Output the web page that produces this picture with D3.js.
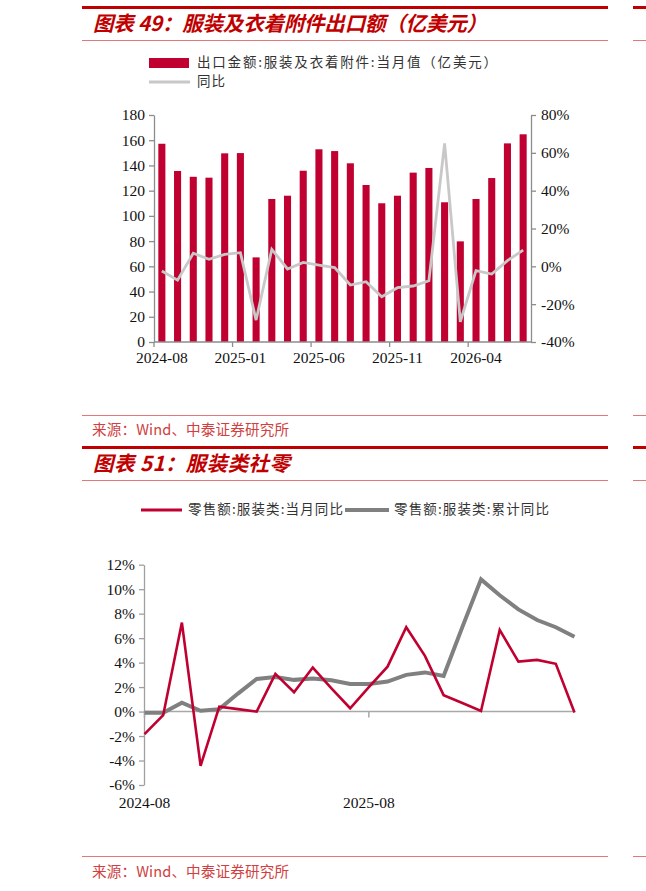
<!DOCTYPE html>
<html><head><meta charset="utf-8">
<script src="https://cdn.jsdelivr.net/npm/d3@7/dist/d3.min.js"></script>
<style>
html,body{margin:0;padding:0;background:#fff;}
svg{display:block;}
</style></head>
<body>
<script>
// ---------- data ----------
const months1 = ["2024-08","2024-09","2024-10","2024-11","2024-12","2025-01","2025-02","2025-03","2025-04","2025-05","2025-06","2025-07","2025-08","2025-09","2025-10","2025-11","2025-12","2026-01","2026-02","2026-03","2026-04","2026-05","2026-06","2026-07"];
const exportValues = [157.2,135.6,131,130.3,149.6,149.8,67.1,113.4,116,135.8,152.8,151.4,141.7,124.5,110,116,134.3,138,110.8,79.8,113.4,130,157.5,164.7];
const exportYoY = [-2.5,-7.3,6.9,3.7,6.3,7.2,-28.4,9.0,-1.4,2.1,0.7,-0.7,-9.9,-8.1,-16.1,-11.3,-10.4,-7.6,65,-29.3,-2.3,-4.1,3.0,8.6];
const xTicks1 = ["2024-08","2025-01","2025-06","2025-11","2026-04"];
const leftTicks1 = [0,20,40,60,80,100,120,140,160,180];
const rightTicks1 = [-40,-20,0,20,40,60,80];

const months2 = months1.slice();
const retailMonthly = [-1.85,-0.3,7.27,-4.43,0.4,0.2,0.0,3.08,1.58,3.6,1.9,0.27,2.0,3.67,6.89,4.55,1.34,0.7,0.05,6.67,4.08,4.22,3.9,-0.08];
const retailCumulative = [-0.1,-0.1,0.73,0.06,0.2,1.47,2.67,2.83,2.59,2.7,2.56,2.26,2.26,2.45,3.0,3.2,2.9,6.9,10.8,9.5,8.35,7.48,6.89,6.12];
const xTicks2 = ["2024-08","2025-08"];
const yTicks2 = [-6,-4,-2,0,2,4,6,8,10,12];

const title1 = "图表 49：服装及衣着附件出口额（亿美元）";
const title2 = "图表 51：服装类社零";
const legend1 = ["出口金额:服装及衣着附件:当月值（亿美元）","同比"];
const legend2 = ["零售额:服装类:当月同比","零售额:服装类:累计同比"];
const sourceText = "来源：Wind、中泰证券研究所";

// ---------- styles ----------
const RED = "#c00030";
const TITLE_RED = "#c00000";
const THIN = "#e07a7a";
const AXIS = "#8c8c8c";
const SERIF = "'Liberation Serif','Times New Roman',serif";
const CJK = "'Noto Sans CJK SC','Noto Sans',sans-serif";

const svg = d3.select("body").append("svg").attr("width",646).attr("height",891);

function hline(y, x1, x2, color, w){
  svg.append("line").attr("x1",x1).attr("x2",x2).attr("y1",y).attr("y2",y)
    .attr("stroke",color).attr("stroke-width",w);
}
[[7.5,3],[447.5,3]].forEach(([y,w])=>{ hline(y,82,608,TITLE_RED,w); hline(y,633,646,TITLE_RED,w); });
[40.5,415.5,480.5,856.5].forEach(y=>{ hline(y,82,608,THIN,1); hline(y,633,646,THIN,1); });

function title(t,y,len){
  svg.append("text").attr("x",93).attr("y",y).text(t)
    .attr("font-family",CJK).attr("font-size",20.5).attr("font-weight","bold")
    .attr("font-style","italic").attr("fill",TITLE_RED).attr("dominant-baseline","middle")
    .attr("textLength",len).attr("lengthAdjust","spacing");
}
title(title1,25,394);
title(title2,465,197);

function source(y){
  svg.append("text").attr("x",92).attr("y",y).text(sourceText)
    .attr("font-family",CJK).attr("font-size",14.6).attr("fill","#d04040")
    .attr("dominant-baseline","middle").attr("textLength",197).attr("lengthAdjust","spacing");
}
source(431);
source(873);

function legText(x,y,t,len){
  const el = svg.append("text").attr("x",x).attr("y",y).text(t)
    .attr("font-family",CJK).attr("font-size",13.5)
    .attr("fill","#333").attr("dominant-baseline","middle");
  if(len) el.attr("textLength",len).attr("lengthAdjust","spacing");
  else el.attr("letter-spacing",1);
}

// ---------- chart 1 ----------
const x1 = d3.scaleBand().domain(months1).range([154,531]).paddingInner(0.55).paddingOuter(0.275);
const band1 = d3.scaleBand().domain(months1).range([154,531]);
const yL = d3.scaleLinear().domain([0,180]).range([342,115]);
const yR = d3.scaleLinear().domain([-40,80]).range([342,115]);

svg.append("rect").attr("x",149).attr("y",58).attr("width",40).attr("height",10).attr("fill",RED);
legText(197,63.5,legend1[0],300);
svg.append("line").attr("x1",149).attr("x2",190).attr("y1",82).attr("y2",82).attr("stroke","#c8c8c8").attr("stroke-width",3);
legText(197,82.5,legend1[1]);

const g1 = svg.append("g");
g1.selectAll("rect.bar").data(exportValues).join("rect").attr("class","bar")
  .attr("x",(d,i)=>x1(months1[i])).attr("width",x1.bandwidth())
  .attr("y",d=>yL(d)).attr("height",d=>yL(0)-yL(d)).attr("fill",RED);

const line1 = d3.line().x((d,i)=>band1(months1[i])+band1.bandwidth()/2).y(d=>yR(d));
g1.append("path").datum(exportYoY).attr("d",line1).attr("fill","none")
  .attr("stroke","#c8c8c8").attr("stroke-width",2.8).attr("stroke-linejoin","miter");

function styleAxis(g){
  g.selectAll("path,line").attr("stroke",AXIS).attr("stroke-width",1.3);
  g.selectAll("text").attr("font-family",SERIF).attr("font-size",15.5).attr("fill","#111");
}
const axL = svg.append("g").attr("transform","translate(154,0)")
  .call(d3.axisLeft(yL).tickValues(leftTicks1).tickSize(5).tickSizeOuter(0).tickPadding(4));
styleAxis(axL);
const axR = svg.append("g").attr("transform","translate(531,0)")
  .call(d3.axisRight(yR).tickValues(rightTicks1).tickSize(5).tickSizeOuter(0).tickPadding(5).tickFormat(d=>d+"%"));
styleAxis(axR);
const axB = svg.append("g").attr("transform","translate(0,342)");
axB.append("line").attr("x1",154).attr("x2",531).attr("y1",0).attr("y2",0);
axB.selectAll("line.t").data(xTicks1).join("line").attr("class","t")
  .attr("x1",d=>band1(d)).attr("x2",d=>band1(d)).attr("y1",0).attr("y2",5);
axB.selectAll("text").data(xTicks1).join("text")
  .attr("x",d=>band1(d)+band1.bandwidth()/2).attr("y",21).attr("text-anchor","middle").text(d=>d);
styleAxis(axB);

// ---------- chart 2 ----------
const x2 = d3.scalePoint().domain(months2).range([144.5,574.5]);
const y2 = d3.scaleLinear().domain([-6,12]).range([785,564.7]);

svg.append("line").attr("x1",141).attr("x2",182).attr("y1",510).attr("y2",510).attr("stroke",RED).attr("stroke-width",3);
legText(188,510.5,legend2[0],155);
svg.append("line").attr("x1",345).attr("x2",389).attr("y1",510).attr("y2",510).attr("stroke","#808080").attr("stroke-width",4);
legText(394,510.5,legend2[1],155);

const axY2 = svg.append("g").attr("transform","translate(144,0)")
  .call(d3.axisLeft(y2).tickValues(yTicks2).tickSize(5).tickSizeOuter(0).tickPadding(4).tickFormat(d=>d+"%"));
styleAxis(axY2);
axY2.selectAll("path,line").attr("stroke","#a0a0a0");

const axX2 = svg.append("g").attr("transform",`translate(0,${y2(0)})`);
axX2.append("line").attr("x1",144).attr("x2",575).attr("y1",0).attr("y2",0);
axX2.selectAll("line.t").data(xTicks2).join("line").attr("class","t")
  .attr("x1",d=>x2(d)).attr("x2",d=>x2(d)).attr("y1",0).attr("y2",6);
styleAxis(axX2);
axX2.selectAll("line").attr("stroke","#a8a8a8").attr("stroke-width",1.5);

svg.append("g").selectAll("text").data(xTicks2).join("text")
  .attr("x",d=>x2(d)).attr("y",808).attr("text-anchor","middle").text(d=>d)
  .attr("font-family",SERIF).attr("font-size",15.5).attr("fill","#111");

const line2 = d3.line().x((d,i)=>x2(months2[i])).y(d=>y2(d));
svg.append("path").datum(retailCumulative).attr("d",line2).attr("fill","none")
  .attr("stroke","#808080").attr("stroke-width",4);
svg.append("path").datum(retailMonthly).attr("d",line2).attr("fill","none")
  .attr("stroke",RED).attr("stroke-width",2.6);
</script>
</body></html>
